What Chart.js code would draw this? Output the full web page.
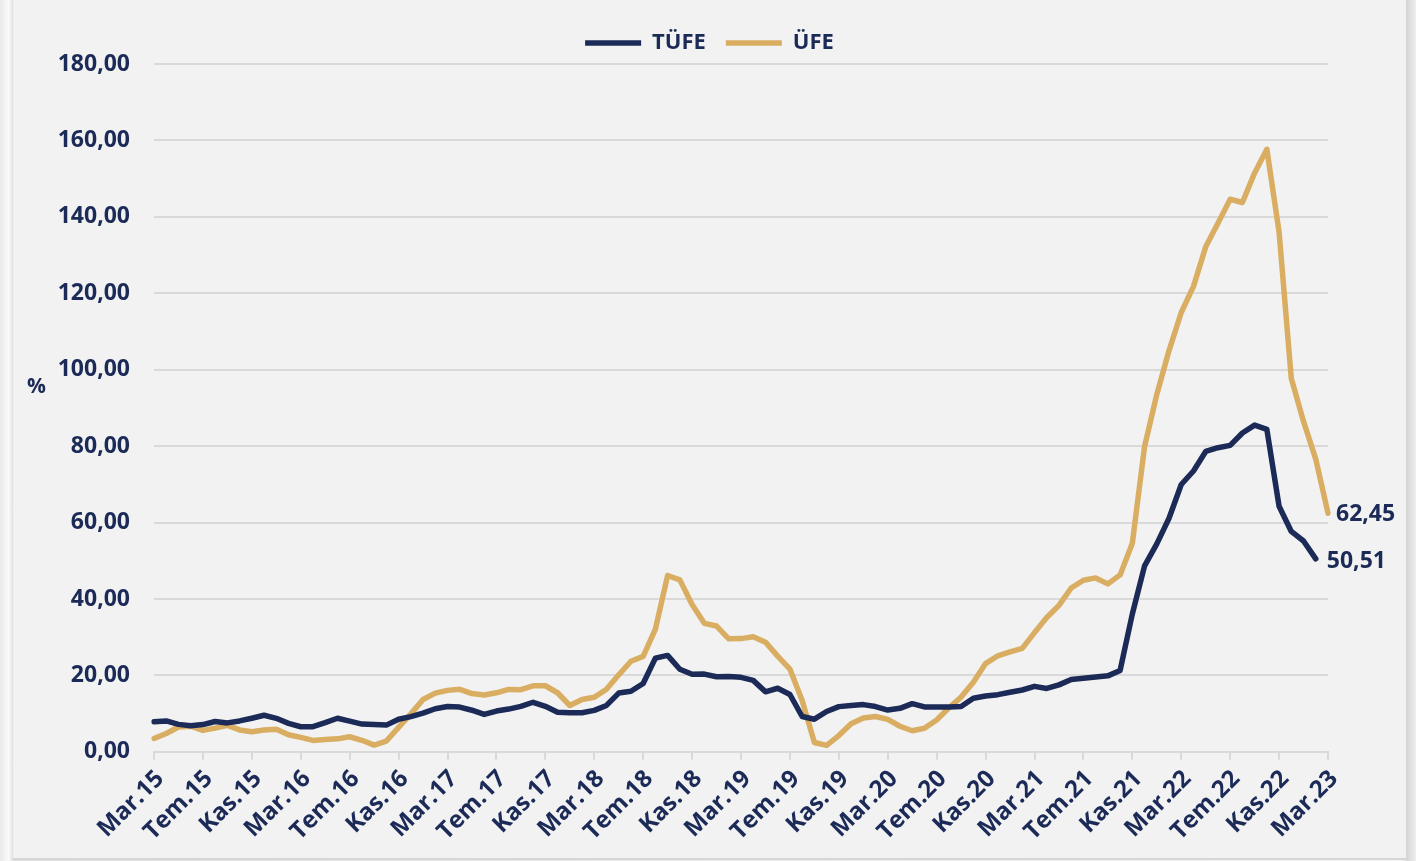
<!DOCTYPE html>
<html lang="tr">
<head>
<meta charset="utf-8">
<title>TÜFE - ÜFE</title>
<script src="https://cdn.jsdelivr.net/npm/chart.js@4.4.1/dist/chart.umd.min.js"></script>
<style>
  html, body { margin: 0; padding: 0; }
  body {
    width: 1416px; height: 861px; overflow: hidden;
    background: linear-gradient(90deg, #e9e9e9 0%, #fafafa 0.6%, #dedede 1%, #f4f4f4 99%, #d8d8d8 99.4%, #efefef 100%);
  }
  #box {
    position: absolute; left: 12px; top: 0; width: 1393px; height: 858px;
    background: #f2f2f2;
    border-right: 1px solid #d6d6d6; border-bottom: 2px solid #d6d6d6; border-left: 1px solid #e2e2e2;
  }
</style>
</head>
<body>
<div id="box"><canvas id="chart-area"></canvas></div>
<script>
'use strict';

const navy = '#1b2a57';
const gold = '#d9ae62';
const grid = '#d9d9d9';
const fontFamily = '"Open Sans", "Noto Sans", sans-serif';

// Mart 2015 - Mart 2023, aylik
const months = [
  'Mar.15','Nis.15','May.15','Haz.15','Tem.15','Ağu.15','Eyl.15','Eki.15','Kas.15','Ara.15',
  'Oca.16','Şub.16','Mar.16','Nis.16','May.16','Haz.16','Tem.16','Ağu.16','Eyl.16','Eki.16','Kas.16','Ara.16',
  'Oca.17','Şub.17','Mar.17','Nis.17','May.17','Haz.17','Tem.17','Ağu.17','Eyl.17','Eki.17','Kas.17','Ara.17',
  'Oca.18','Şub.18','Mar.18','Nis.18','May.18','Haz.18','Tem.18','Ağu.18','Eyl.18','Eki.18','Kas.18','Ara.18',
  'Oca.19','Şub.19','Mar.19','Nis.19','May.19','Haz.19','Tem.19','Ağu.19','Eyl.19','Eki.19','Kas.19','Ara.19',
  'Oca.20','Şub.20','Mar.20','Nis.20','May.20','Haz.20','Tem.20','Ağu.20','Eyl.20','Eki.20','Kas.20','Ara.20',
  'Oca.21','Şub.21','Mar.21','Nis.21','May.21','Haz.21','Tem.21','Ağu.21','Eyl.21','Eki.21','Kas.21','Ara.21',
  'Oca.22','Şub.22','Mar.22','Nis.22','May.22','Haz.22','Tem.22','Ağu.22','Eyl.22','Eki.22','Kas.22','Ara.22',
  'Oca.23','Şub.23','Mar.23'
];

// TÜFE (yillik %) - grafikte bir ay erken cizilmis, son deger Sub.23 konumunda
const tufe = [
  7.91, 8.09, 7.20, 6.81, 7.14, 7.95, 7.58, 8.10, 8.81,
  9.58, 8.78, 7.46, 6.57, 6.58, 7.64, 8.79, 8.05, 7.28, 7.16, 7.00, 8.53,
  9.22, 10.13, 11.29, 11.87, 11.72, 10.90, 9.79, 10.68, 11.20, 11.90, 12.98, 11.92,
  10.35, 10.26, 10.23, 10.85, 12.15, 15.39, 15.85, 17.90, 24.52, 25.24, 21.62, 20.30,
  20.35, 19.67, 19.71, 19.50, 18.71, 15.72, 16.65, 15.01, 9.26, 8.55, 10.56, 11.84,
  12.15, 12.37, 11.86, 10.94, 11.39, 12.62, 11.76, 11.77, 11.75, 11.89, 14.03, 14.60,
  14.97, 15.61, 16.19, 17.14, 16.59, 17.53, 18.95, 19.25, 19.58, 19.89, 21.31, 36.08,
  48.69, 54.44, 61.14, 69.97, 73.50, 78.62, 79.60, 80.21, 83.45, 85.51, 84.39, 64.27,
  57.68, 55.18, 50.51
];

// ÜFE (yillik %)
const ufe = [
  3.50, 4.80, 6.50, 6.73, 5.62, 6.21, 6.92, 5.74, 5.25, 5.71,
  5.94, 4.49, 3.80, 3.00, 3.25, 3.41, 3.96, 3.03, 1.78, 2.84, 6.41, 9.94,
  13.69, 15.36, 16.09, 16.37, 15.26, 14.87, 15.45, 16.34, 16.28, 17.28, 17.30, 15.47,
  12.14, 13.71, 14.28, 16.37, 20.16, 23.71, 25.00, 32.13, 46.15, 45.01, 38.54, 33.64,
  32.93, 29.59, 29.64, 30.12, 28.71, 25.04, 21.66, 13.45, 2.45, 1.70, 4.26, 7.36,
  8.84, 9.26, 8.50, 6.71, 5.53, 6.17, 8.33, 11.53, 14.33, 18.20, 23.11, 25.15,
  26.16, 27.09, 31.20, 35.17, 38.33, 42.89, 44.92, 45.52, 43.96, 46.31, 54.62, 79.89,
  93.53, 105.01, 114.97, 121.82, 132.16, 138.31, 144.61, 143.75, 151.50, 157.69, 136.02, 97.72,
  86.46, 76.61, 62.45
];

const fmt = v => v.toFixed(2).replace('.', ',');

// son degerler ve "%" yazisi
const extraText = {
  id: 'extraText',
  afterDatasetsDraw(chart) {
    const ctx = chart.ctx;
    const area = chart.chartArea;
    const shift = [[11, 3], [8, 1]];
    ctx.save();
    ctx.fillStyle = navy;
    ctx.font = 'bold 23px ' + fontFamily;
    ctx.textBaseline = 'middle';
    chart.data.datasets.forEach((ds, i) => {
      const last = ds.data.length - 1;
      const pt = chart.getDatasetMeta(i).data[last];
      ctx.fillText(fmt(ds.data[last]), pt.x + shift[i][0], pt.y + shift[i][1]);
    });
    ctx.font = 'bold 21px ' + fontFamily;
    ctx.fillText('%', chart.scales.y.left + 14, (area.top + area.bottom) / 2 - 21);
    ctx.restore();
  }
};

const lineStyle = { borderWidth: 5.5, tension: 0, borderCapStyle: 'round', borderJoinStyle: 'round', pointRadius: 0 };

const config = {
  type: 'line',
  data: {
    labels: months,
    datasets: [
      Object.assign({ label: 'TÜFE', data: tufe, borderColor: navy, backgroundColor: navy }, lineStyle),
      Object.assign({ label: 'ÜFE', data: ufe, borderColor: gold, backgroundColor: gold }, lineStyle)
    ]
  },
  options: {
    responsive: true,
    maintainAspectRatio: false,
    animation: false,
    layout: { padding: { top: 12, right: 0, bottom: 7, left: 0 } },
    plugins: {
      tooltip: { enabled: false },
      legend: {
        position: 'top',
        labels: {
          usePointStyle: true,
          pointStyle: 'line',
          pointStyleWidth: 56,
          padding: 20,
          color: navy,
          font: { family: fontFamily, size: 22, weight: 'bold' }
        }
      }
    },
    scales: {
      x: {
        offset: false,
        grid: { drawOnChartArea: false, color: grid, lineWidth: 2, tickLength: 8 },
        border: { color: grid, width: 2 },
        afterBuildTicks: axis => { axis.ticks = axis.ticks.filter(t => t.value % 4 === 0); },
        ticks: {
          autoSkip: false,
          minRotation: 45,
          maxRotation: 45,
          padding: 5,
          labelOffset: 6,
          color: navy,
          font: { family: fontFamily, size: 24, weight: 'bold' },
          callback: function(v) { return this.getLabelForValue(v); }
        }
      },
      y: {
        min: 0,
        max: 180,
        grid: { color: grid, lineWidth: 2, drawTicks: false },
        border: { display: false },
        afterFit: s => { s.width = 141; },
        ticks: {
          stepSize: 20,
          padding: 24,
          color: navy,
          font: { family: fontFamily, size: 23, weight: 'bold' },
          callback: v => fmt(v)
        }
      },
      // bos sag eksen: son deger etiketlerine yer
      yRight: {
        position: 'right',
        grid: { display: false },
        border: { display: false },
        ticks: { display: false },
        afterFit: s => { s.width = 78; }
      }
    }
  },
  plugins: [extraText]
};

window.onload = function() {
  const ctx = document.getElementById('chart-area').getContext('2d');
  document.getElementById('chart-area').parentNode.style.position = 'absolute';
  window.myLine = new Chart(ctx, config);
};
</script>
</body>
</html>
